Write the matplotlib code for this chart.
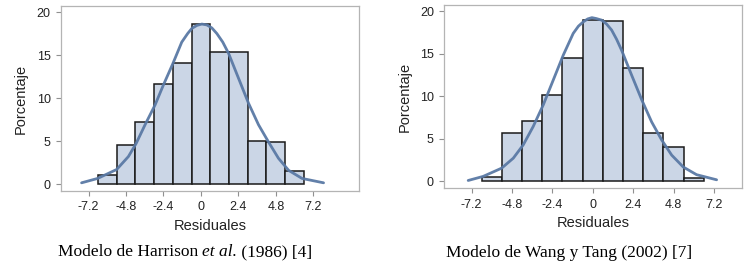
import matplotlib
matplotlib.use("Agg")
import matplotlib.pyplot as plt

# centros de las clases (ancho 1.2)
centros = [-6.0, -4.8, -3.6, -2.4, -1.2, 0.0, 1.2, 2.4, 3.6, 4.8, 6.0]
ancho = 1.2

# porcentajes
pct_harrison = [1.1, 4.6, 7.2, 11.6, 14.1, 18.6, 15.4, 15.4, 5.0, 4.9, 1.5]
pct_wang = [0.5, 5.7, 7.1, 10.2, 14.5, 19.0, 18.9, 13.3, 5.7, 4.1, 0.4]

# curva de densidad
curva_h_x = [-7.65, -6.62, -5.40, -4.65, -4.16, -3.58, -2.94, -2.41, -1.80, -1.23,
             -0.85, -0.58, -0.25, 0.06, 0.38, 0.70, 1.02, 1.40, 1.77, 2.41, 3.05,
             3.69, 4.33, 4.97, 5.62, 6.48, 7.86]
curva_h_y = [0.15, 0.66, 1.7, 3.2, 4.7, 6.9, 9.2, 11.5, 14.0, 16.5,
             17.5, 18.1, 18.45, 18.6, 18.5, 18.15, 17.5, 16.5, 15.2, 12.3, 9.4,
             6.9, 4.9, 3.0, 1.6, 0.66, 0.15]
curva_w_x = [-7.40, -6.51, -5.41, -4.72, -4.13, -3.54, -2.94, -2.35, -1.75, -1.16,
             -0.85, -0.56, -0.30, -0.05, 0.20, 0.53, 0.82, 1.12, 1.42, 1.72, 2.31,
             2.91, 3.50, 4.09, 4.69, 5.38, 6.17, 7.36]
curva_w_y = [0.12, 0.6, 1.57, 2.74, 4.3, 6.45, 9.0, 11.9, 14.85, 17.4,
             18.25, 18.76, 19.1, 19.25, 19.15, 18.96, 18.5, 17.8, 16.7, 15.4, 12.5,
             9.6, 7.0, 4.9, 3.1, 1.7, 0.8, 0.2]

xticks = [-7.2, -4.8, -2.4, 0, 2.4, 4.8, 7.2]
xtick_labels = ["-7.2", "-4.8", "-2.4", "0", "2.4", "4.8", "7.2"]
yticks = [0, 5, 10, 15, 20]

plt.rcParams['font.family'] = ['Liberation Sans', 'DejaVu Sans']

fig = plt.figure(figsize=(7.51, 2.63), dpi=100)
ax1 = fig.add_axes([0.0812, 0.2738, 0.3968, 0.7034])
ax2 = fig.add_axes([0.5916, 0.2840, 0.3960, 0.6958])

paneles = [
    (ax1, pct_harrison, curva_h_x, curva_h_y, (-8.97, 10.13)),
    (ax2, pct_wang, curva_w_x, curva_w_y, (-8.82, 8.85)),
]

for ax, pct, cx, cy, xl in paneles:
    ax.bar(centros, pct, width=ancho, color='#cbd6e6', edgecolor='#1a1a1a',
           linewidth=1.1, zorder=2)
    ax.plot(cx, cy, color='#5a79a5', linewidth=2.0, alpha=0.95,
            solid_joinstyle='round', solid_capstyle='round', zorder=3)
    ax.set_xlim(*xl)
    ax.set_ylim(-0.8, 20.7)
    ax.set_xticks(xticks)
    ax.set_xticklabels(xtick_labels)
    ax.set_yticks(yticks)
    ax.tick_params(axis='both', direction='out', length=3.5, width=0.8,
                   color='#909090', labelsize=9, labelcolor='#222222', pad=4)
    for s in ax.spines.values():
        s.set_color('#b4b4b4')
        s.set_linewidth(0.9)
    ax.set_xlabel('Residuales', fontsize=10.5, color='#222222', labelpad=4)
    ax.set_ylabel('Porcentaje', fontsize=10.5, color='#222222', labelpad=6)

# pie de la figura izquierda, con "et al." en cursiva
partes = [('Modelo de Harrison ', 'normal'), ('et al.', 'italic'), (' (1986) [4]', 'normal')]
renderer = fig.canvas.get_renderer()
textos = []
total = 0
for txt, estilo in partes:
    t = fig.text(0, 1 - 252 / 263, txt, ha='left', va='center', fontsize=12.5,
                 family='Liberation Serif', style=estilo)
    w = t.get_window_extent(renderer).width
    textos.append((t, w))
    total += w
x = 185 - total / 2
for t, w in textos:
    t.set_x(x / 751)
    x += w

fig.text(569 / 751, 1 - 253 / 263, 'Modelo de Wang y Tang (2002) [7]',
         ha='center', va='center', fontsize=12.5, family='Liberation Serif')

fig.savefig('out.png', dpi=100)
